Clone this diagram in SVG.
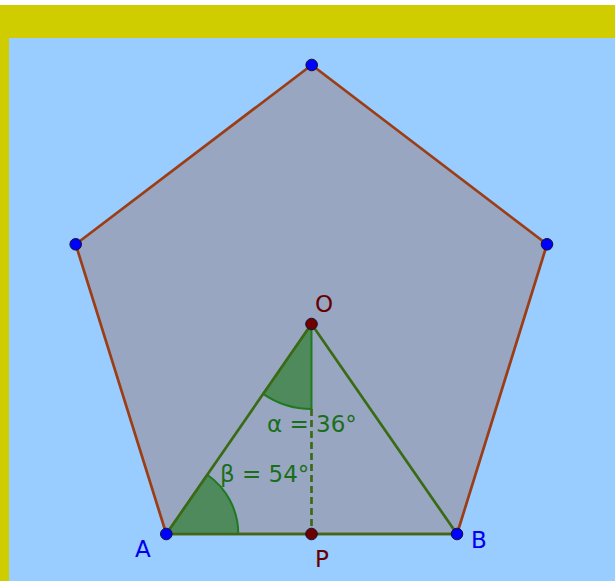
<svg xmlns="http://www.w3.org/2000/svg" width="615" height="581" viewBox="0 0 615 581">
<style>
.lbl{font-family:"DejaVu Sans",sans-serif;font-size:23px}
.pt{stroke:#111133;stroke-width:1}
.seg{stroke:#3a6b14;stroke-width:2.7;fill:none}
.sector{fill:#4e8a5c;stroke:#1f7a1f;stroke-width:2}
</style>
<rect x="0" y="0" width="615" height="581" fill="#ffffff"/>
<rect x="0" y="5" width="615" height="576" fill="#cfcc00"/>
<rect x="9" y="38" width="606" height="543" fill="#99ccff"/>
<g id="pentagon">
<polygon points="311.7,65 547,244.3 457,534 166.3,534 75.7,244.3" fill="#99a6c2" stroke="#9c3d14" stroke-width="2.7" stroke-linejoin="round"/>
</g>
<g id="angles">
<path class="sector" d="M311.5,324 L311.5,409 A85,85 0 0 1 263.1,393.9 Z"/>
<path class="sector" d="M166.3,534 L238.3,534 A72,72 0 0 0 207.3,474.8 Z"/>
</g>
<g id="connectors">
<line class="seg" x1="166.3" y1="534" x2="311.5" y2="324"/>
<line class="seg" x1="311.5" y1="324" x2="457" y2="534"/>
<line class="seg" x1="166.3" y1="534" x2="457" y2="534"/>
<line class="seg" x1="311.5" y1="409" x2="311.5" y2="534" stroke-dasharray="7,4"/>
</g>
<g id="angle-labels" fill="#1a6e1a">
<text class="lbl" x="267" y="432">α = 36°</text>
<text class="lbl" x="220" y="482">β = 54°</text>
</g>
<g id="vertex-top"><circle class="pt" cx="311.7" cy="65" r="5.8" fill="#0000ff"/></g>
<g id="vertex-left"><circle class="pt" cx="75.7" cy="244.3" r="5.8" fill="#0000ff"/></g>
<g id="vertex-right"><circle class="pt" cx="547" cy="244.3" r="5.8" fill="#0000ff"/></g>
<g id="A"><circle class="pt" cx="166.3" cy="534" r="5.8" fill="#0000ff"/><text class="lbl" x="135" y="557" fill="#0000ee">A</text></g>
<g id="B"><circle class="pt" cx="457" cy="534" r="5.8" fill="#0000ff"/><text class="lbl" x="471" y="548" fill="#0000ee">B</text></g>
<g id="O"><circle class="pt" cx="311.5" cy="324" r="5.8" fill="#6e0000"/><text class="lbl" x="315" y="312" fill="#660000">O</text></g>
<g id="P"><circle class="pt" cx="311.5" cy="534" r="5.8" fill="#6e0000"/><text class="lbl" x="315" y="567" fill="#660000">P</text></g>
</svg>
